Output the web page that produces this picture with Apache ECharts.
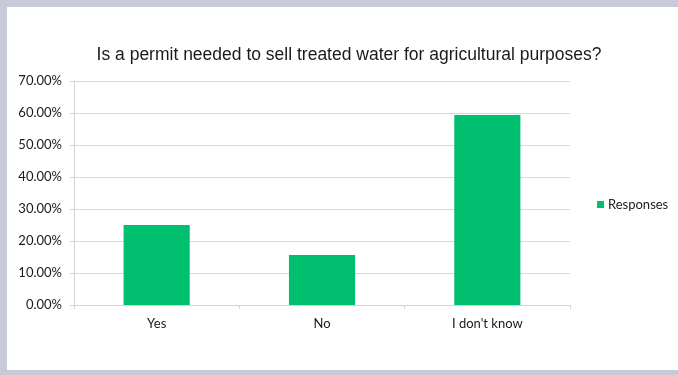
<!DOCTYPE html>
<html>
<head>
<meta charset="utf-8">
<script src="https://cdn.jsdelivr.net/npm/echarts@6/dist/echarts.min.js"></script>
<style>
  html, body { margin: 0; padding: 0; background: #fff; }
  #chart { width: 678px; height: 375px; }
</style>
</head>
<body>
<div id="chart"></div>
<script>
// Survey question and answers
const titleText = 'Is a permit needed to sell treated water for agricultural purposes?';
const categories = ['Yes', 'No', "I don't know"];
const responses = [0.25, 0.15625, 0.59375];
const seriesName = 'Responses';
const yTicks = [0, 0.1, 0.2, 0.3, 0.4, 0.5, 0.6, 0.7];

const frameColor = '#c9cad8';
const barColor = '#00bf6f';
const labelFont = 'Lato, "Open Sans", sans-serif';

const chart = echarts.init(document.getElementById('chart'), null, { renderer: 'canvas' });

chart.setOption({
  animation: false,
  backgroundColor: '#ffffff',
  title: {
    text: titleText,
    left: 344,
    textAlign: 'center',
    top: 41,
    textStyle: {
      fontFamily: '"Liberation Sans", Arial, sans-serif',
      fontSize: 17.5,
      fontWeight: 'normal',
      color: '#1a1a1a'
    }
  },
  legend: {
    data: [seriesName],
    left: 592,
    top: 193,
    itemWidth: 7,
    itemHeight: 7,
    icon: 'rect',
    itemGap: 4,
    textStyle: { fontFamily: labelFont, fontSize: 13, color: '#222', padding: [0, 0, 0, -1] }
  },
  grid: { left: 74, right: 108, top: 81, bottom: 70 },
  xAxis: {
    type: 'category',
    data: categories,
    axisLine: { lineStyle: { color: '#d4d4d4', width: 1 } },
    axisTick: { show: true, length: 4, lineStyle: { color: '#d4d4d4' } },
    axisLabel: { margin: 12, fontFamily: labelFont, fontSize: 13, color: '#1a1a1a' }
  },
  yAxis: {
    type: 'value',
    min: yTicks[0],
    max: yTicks[yTicks.length - 1],
    interval: 0.1,
    axisLine: { show: true, lineStyle: { color: '#d4d4d4', width: 1 } },
    axisTick: { show: true, length: 4, lineStyle: { color: '#d4d4d4' } },
    splitLine: { lineStyle: { color: '#d9d9d9', width: 1 } },
    axisLabel: {
      margin: 12,
      fontFamily: labelFont,
      fontSize: 13,
      color: '#1a1a1a',
      formatter: v => (v * 100).toFixed(2) + '%'
    }
  },
  series: [{
    name: seriesName,
    type: 'bar',
    data: responses,
    barWidth: '40%',
    itemStyle: { color: barColor }
  }],
  graphic: [
    { type: 'rect', left: 0, top: 0, shape: { width: 678, height: 7 }, style: { fill: frameColor }, z: 100 },
    { type: 'rect', left: 0, top: 0, shape: { width: 7, height: 375 }, style: { fill: frameColor }, z: 100 },
    { type: 'rect', left: 0, top: 370, shape: { width: 678, height: 5 }, style: { fill: frameColor }, z: 100 }
  ]
});
</script>
</body>
</html>
